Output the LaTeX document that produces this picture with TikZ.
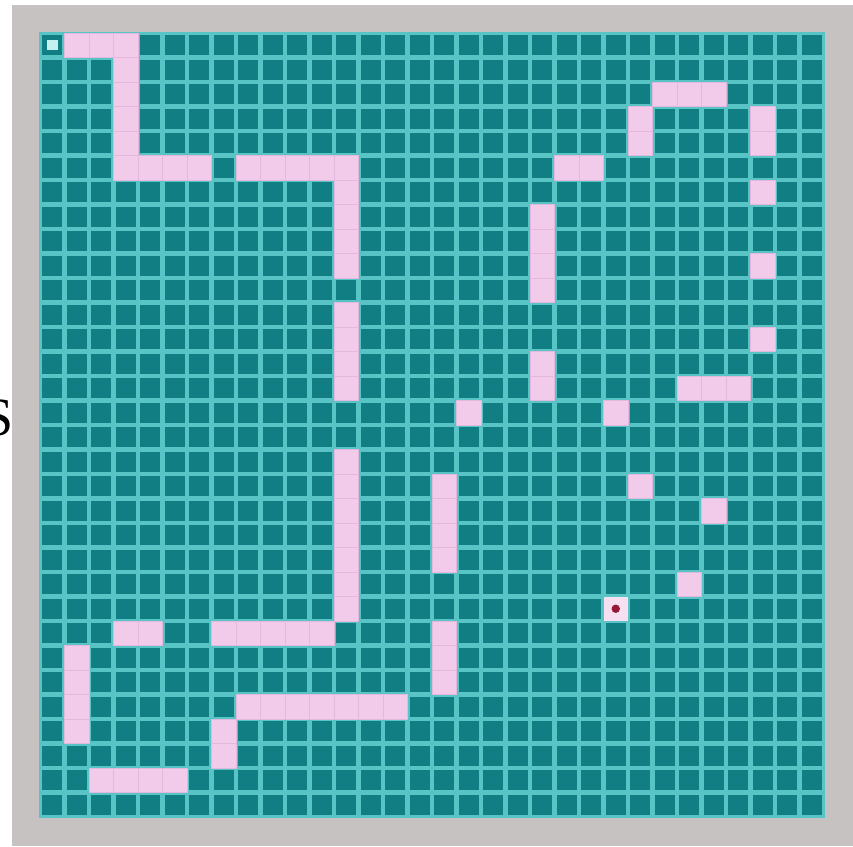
\documentclass[tikz,border=0pt]{standalone}
\usepackage{fontspec}
\setmainfont{Liberation Serif}
\usetikzlibrary{positioning}

\definecolor{framegray}{RGB}{198,194,194}
\definecolor{gridline}{RGB}{88,196,198}
\definecolor{tealdark}{RGB}{16,126,130}
\definecolor{wallpink}{RGB}{242,202,234}
\definecolor{wallline}{RGB}{228,184,220}
\definecolor{startdot}{RGB}{196,240,240}
\definecolor{goalred}{RGB}{150,24,56}

\tikzset{
  frame/.style={fill=framegray},
  opencell/.style={fill=tealdark},
  wallcell/.style={fill=wallpink, draw=wallline, line width=0.4pt},
  goalcell/.style={fill=wallpink!60!white},
}

\begin{document}
\begin{tikzpicture}[x=0.03cm, y=-0.03cm]
    \useasboundingbox (0,0) rectangle (853,846);
    \fill[white] (0,0) rectangle (853,846);

    % Cut-off letter on the left
    \node[anchor=base east, inner sep=0pt, font=\fontsize{46}{46}\selectfont] (word) at (14,435) {S};

    % Gray frame
    \fill[frame] (12,5) rectangle (853,846);

    % Grid lines and open cells
    \fill[gridline] (39,32) rectangle (825,818);
    \foreach \c in {0,...,31}
      \foreach \r in {0,...,31}
        \fill[opencell] ({40+24.5*\c+2.2},{33+24.5*\r+2.2}) rectangle ({40+24.5*(\c+1)-2.2},{33+24.5*(\r+1)-2.2});

    % Horizontal walls: row / first col / last col
    \foreach \r/\a/\b in {0/1/3, 5/3/6, 5/8/12, 24/3/4, 24/7/11, 27/8/14, 30/2/5,
                          5/21/22, 2/25/27, 14/26/28}
      \foreach \c in {\a,...,\b}
        \filldraw[wallcell] ({40+24.5*\c},{33+24.5*\r}) rectangle ({40+24.5*(\c+1)},{33+24.5*(\r+1)});

    % Vertical walls: col / first row / last row
    \foreach \c/\a/\b in {3/0/5, 12/5/9, 12/11/14, 12/17/23, 1/25/28, 7/28/29,
                          16/18/21, 16/24/26, 20/7/10, 20/13/14, 24/3/4, 29/3/4}
      \foreach \r in {\a,...,\b}
        \filldraw[wallcell] ({40+24.5*\c},{33+24.5*\r}) rectangle ({40+24.5*(\c+1)},{33+24.5*(\r+1)});

    % Single wall cells
    \foreach \c/\r in {17/15, 23/15, 24/18, 27/19, 26/22, 29/6, 29/9, 29/12}
      \filldraw[wallcell] ({40+24.5*\c},{33+24.5*\r}) rectangle ({40+24.5*(\c+1)},{33+24.5*(\r+1)});

    % Start cell
    \fill[startdot] (46.5,40) rectangle (58,50);

    % Goal cell
    \fill[goalcell] ({40+24.5*23},{33+24.5*23}) rectangle ({40+24.5*24},{33+24.5*24});
    \fill[goalred] ({40+24.5*23.5},{33+24.5*23.5}) circle[radius=4.2];
\end{tikzpicture}
\end{document}
